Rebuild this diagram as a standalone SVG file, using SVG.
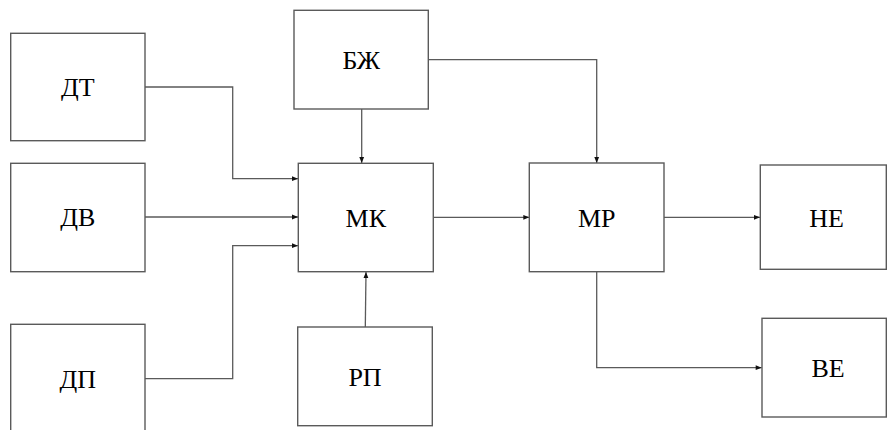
<svg xmlns="http://www.w3.org/2000/svg" width="888" height="430" viewBox="0 0 888 430">
<style>
.box{fill:#fff;stroke:#5a5a5a;stroke-width:1.4}
.lbl{font-family:'Liberation Serif','Times New Roman',serif;font-size:26px;fill:#000;text-anchor:middle}
.c{fill:none;stroke:#5a5a5a;stroke-width:1.3}
</style>
<defs>
<marker id="a" viewBox="0 0 10 10" refX="10" refY="5" markerWidth="7" markerHeight="6" markerUnits="userSpaceOnUse" orient="auto">
<path d="M0,1 L10,5 L0,9 Z" fill="#111"/>
</marker>
</defs>
<rect width="888" height="430" fill="#fff"/>
<g id="connectors">
<path class="c" d="M145,87 H232.7 V178.7 H298" marker-end="url(#a)"/>
<path class="c" d="M145,217 H298" marker-end="url(#a)"/>
<path class="c" d="M145,378.7 H232.7 V245.7 H298" marker-end="url(#a)"/>
<path class="c" d="M361.7,109 V163" marker-end="url(#a)"/>
<path class="c" d="M428.3,59.7 H596.7 V163" marker-end="url(#a)"/>
<path class="c" d="M433.3,217.3 H529.3" marker-end="url(#a)"/>
<path class="c" d="M365.3,327 L366,272" marker-end="url(#a)"/>
<path class="c" d="M664,217.3 H760" marker-end="url(#a)"/>
<path class="c" d="M596.7,271.7 V367.7 H761.7" marker-end="url(#a)"/>
</g>
<g id="DT"><rect class="box" x="10.7" y="33.3" width="134.3" height="107.4"/><text class="lbl" x="77.8" y="96">ДТ</text></g>
<g id="DV"><rect class="box" x="10.7" y="163.3" width="134.3" height="108.4"/><text class="lbl" x="77.8" y="226">ДВ</text></g>
<g id="DP"><rect class="box" x="10.7" y="324.3" width="134.3" height="110"/><text class="lbl" x="77.8" y="388">ДП</text></g>
<g id="BZh"><rect class="box" x="294" y="10.3" width="134.3" height="98.7"/><text class="lbl" x="361.2" y="69">БЖ</text></g>
<g id="MK"><rect class="box" x="298.3" y="163.3" width="135" height="108.4"/><text class="lbl" x="365.8" y="226.5">МК</text></g>
<g id="RP"><rect class="box" x="297.7" y="327" width="134.6" height="98.7"/><text class="lbl" x="365" y="386">РП</text></g>
<g id="MR"><rect class="box" x="529.3" y="163" width="134.7" height="108.7"/><text class="lbl" x="596.7" y="226.5">МР</text></g>
<g id="NE"><rect class="box" x="760.3" y="165" width="126" height="104.3"/><text class="lbl" x="826.5" y="226.5">НЕ</text></g>
<g id="VE"><rect class="box" x="762" y="318.3" width="124.3" height="98.7"/><text class="lbl" x="828" y="377">ВЕ</text></g>
</svg>
